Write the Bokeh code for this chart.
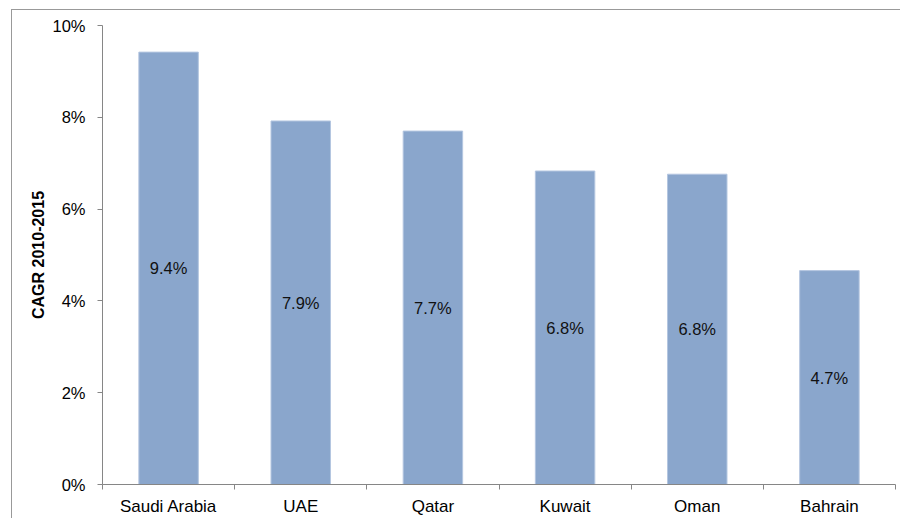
from bokeh.plotting import figure
from bokeh.layouts import column
from bokeh.models import ColumnDataSource, FixedTicker, PrintfTickFormatter, Range1d, LabelSet
from bokeh.core.properties import value
from bokeh.embed import file_html
from bokeh.resources import INLINE

countries = ["Saudi Arabia", "UAE", "Qatar", "Kuwait", "Oman", "Bahrain"]
cagr = [9.42, 7.92, 7.70, 6.83, 6.76, 4.66]
y_ticks = [0, 2, 4, 6, 8, 10]

xpos = [i + 0.5 for i in range(len(countries))]
labels = [f"{v:.1f}%" for v in cagr]
src = ColumnDataSource(dict(x=xpos, top=cagr, mid=[v / 2 for v in cagr], lab=labels))

FONT = "Liberation Sans"

p = figure(width=888, height=508, output_backend="svg", toolbar_location=None,
           x_range=Range1d(0, len(countries)), y_range=Range1d(0, 10),
           min_border_left=90, min_border_right=5, min_border_top=15, min_border_bottom=34)
p.outline_line_color = None
p.grid.grid_line_color = None
p.background_fill_color = "white"
p.border_fill_color = "white"

p.vbar(x="x", top="top", width=0.45, bottom=0, source=src,
       fill_color="#8aa6cc", line_color="#b4c6e0", line_width=1)

p.add_layout(LabelSet(x="x", y="mid", text="lab", source=src, text_align="center",
                      text_baseline="middle", text_font=value(FONT), text_font_size="16.5px",
                      text_color="#111111"))

# y axis
ya = p.yaxis[0]
ya.ticker = FixedTicker(ticks=y_ticks, minor_ticks=[])
ya.formatter = PrintfTickFormatter(format="%d%%")
ya.axis_label = "CAGR 2010-2015"
ya.axis_label_text_font = FONT
ya.axis_label_text_font_style = "bold"
ya.axis_label_text_font_size = "16px"
ya.axis_label_text_color = "black"
ya.axis_label_standoff = 2
ya.major_label_text_font = FONT
ya.major_label_text_font_size = "16.5px"
ya.major_label_text_color = "black"
ya.major_label_standoff = 12
ya.axis_line_color = "#868686"
ya.major_tick_line_color = "#868686"
ya.major_tick_out = 5
ya.major_tick_in = 0
ya.minor_tick_line_color = None

# x axis
xa = p.xaxis[0]
xa.ticker = FixedTicker(ticks=xpos, minor_ticks=list(range(len(countries) + 1)))
xa.major_label_overrides = {x: c for x, c in zip(xpos, countries)}
xa.major_label_text_font = FONT
xa.major_label_text_font_size = "17px"
xa.major_label_text_color = "black"
xa.major_label_standoff = 6
xa.axis_line_color = "#868686"
xa.major_tick_line_color = None
xa.minor_tick_line_color = "#868686"
xa.minor_tick_out = 5
xa.minor_tick_in = 0

layout = column(p, margin=(9, 0, 0, 11),
                styles={"border-left": "1px solid #999999", "border-top": "1px solid #999999",
                        "background-color": "white"})

open("out.html", "w").write(file_html(layout, INLINE))
